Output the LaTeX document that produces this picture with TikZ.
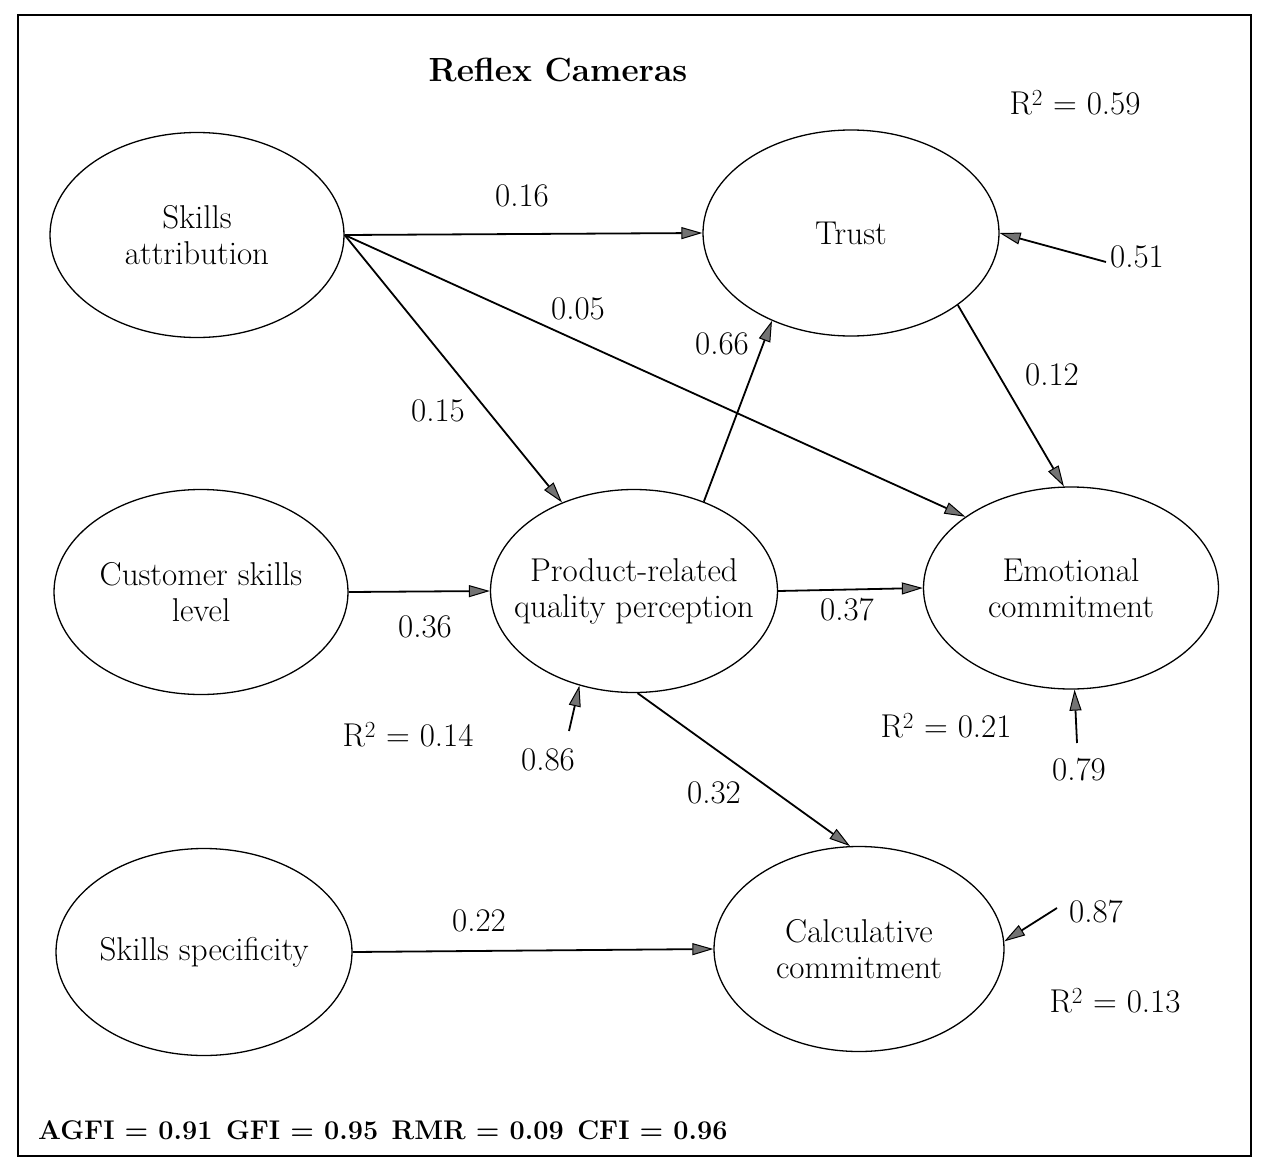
\documentclass[tikz,border=0pt]{standalone}
\usetikzlibrary{shapes.geometric,arrows.meta}
\newcommand\lblfont{\fontsize{33}{36}\selectfont}
\newcommand\numfnt{\fontsize{33}{36}\selectfont}
\newcommand\ttlfont{\fontsize{33.5}{38}\selectfont\bfseries}
\newcommand\fitfont{\fontsize{27}{30}\selectfont\bfseries}
\begin{document}
\begin{tikzpicture}[x=1pt,y=-1pt,
  latent/.style={draw, ellipse, line width=1.3pt, inner sep=0pt},
  caption/.style={font=\lblfont, align=center, inner sep=0pt},
  effect/.style={line width=1.8pt, -{Triangle[length=21pt,width=12pt,fill=black!55,line width=1pt]}},
  coef/.style={font=\numfnt, inner sep=0pt},
]
\useasboundingbox (0,0) rectangle (1264,1167);
% outer frame
\draw[line width=1.5pt] (18,15) rectangle (1251,1156);

\node[font=\ttlfont] (title) at (558,70) {Reflex Cameras};

% latent variables (outline only, caption centred inside)
\node[latent, minimum width=294pt, minimum height=205pt,
  label={[caption]center:{Skills\\attribution}}] (sa) at (197,235) {};
\node[latent, minimum width=296pt, minimum height=206pt,
  label={[caption]center:{Trust}}] (trust) at (851,233) {};
\node[latent, minimum width=294pt, minimum height=205pt,
  label={[caption]center:{Customer skills\\level}}] (cust) at (201,592) {};
\node[latent, minimum width=287pt, minimum height=203pt,
  label={[caption]center:{Product-related\\quality perception}}] (prod) at (634,591) {};
\node[latent, minimum width=295pt, minimum height=202pt,
  label={[caption]center:{Emotional\\commitment}}] (emo) at (1071,588) {};
\node[latent, minimum width=296pt, minimum height=207pt,
  label={[caption]center:{Skills specificity}}] (spec) at (204,952) {};
\node[latent, minimum width=290pt, minimum height=205pt,
  label={[caption]center:{Calculative\\commitment}}] (calc) at (859,949) {};

% structural paths
\draw[effect] (sa.east) -- (trust.west);
\draw[effect] (sa.east) -- (prod);
\draw[effect] (sa.east) -- (emo.146);
\draw[effect] (trust.-34) -- (emo.94);
\draw[effect] (prod.52) -- (trust.-132);
\draw[effect] (cust.east) -- (prod.west);
\draw[effect] (prod.east) -- (emo.west);
\draw[effect] (prod.-88) -- (calc.95);
\draw[effect] (spec.east) -- (calc.west);

% path coefficients
\node[coef] (c16) at (522,196) {0.16};
\node[coef] (c05) at (578,309) {0.05};
\node[coef] (c66) at (722,344) {0.66};
\node[coef] (c12) at (1052,375) {0.12};
\node[coef] (c15) at (438,411) {0.15};
\node[coef] (c36) at (425,627) {0.36};
\node[coef] (c37) at (847,610) {0.37};
\node[coef] (c32) at (714,793) {0.32};
\node[coef] (c22) at (479,921) {0.22};

% explained variance
\node[coef] (r59) at (1075,103) {R\textsuperscript{2} = 0.59};
\node[coef] (r14) at (408,735)  {R\textsuperscript{2} = 0.14};
\node[coef] (r21) at (946,726)  {R\textsuperscript{2} = 0.21};
\node[coef] (r13) at (1115,1001) {R\textsuperscript{2} = 0.13};

% residual terms
\node[coef] (e51) at (1137,257) {0.51};
\node[coef] (e86) at (548,760)  {0.86};
\node[coef] (e79) at (1079,770) {0.79};
\node[coef] (e87) at (1096,912) {0.87};
\coordinate (e51s) at (1106,262);
\coordinate (e86s) at (569,731);
\coordinate (e79s) at (1077,743);
\coordinate (e87s) at (1057,908);
\draw[effect] (e51s) -- (trust.east);
\draw[effect] (e86s) -- (prod.240);
\draw[effect] (e79s) -- (emo.-88);
\draw[effect] (e87s) -- (calc.3);

% fit indices
\node[font=\fitfont, anchor=west, inner sep=0pt] (fit) at (38,1130)
  {AGFI = 0.91\enspace GFI = 0.95\enspace RMR = 0.09\enspace CFI = 0.96};
\end{tikzpicture}
\end{document}
